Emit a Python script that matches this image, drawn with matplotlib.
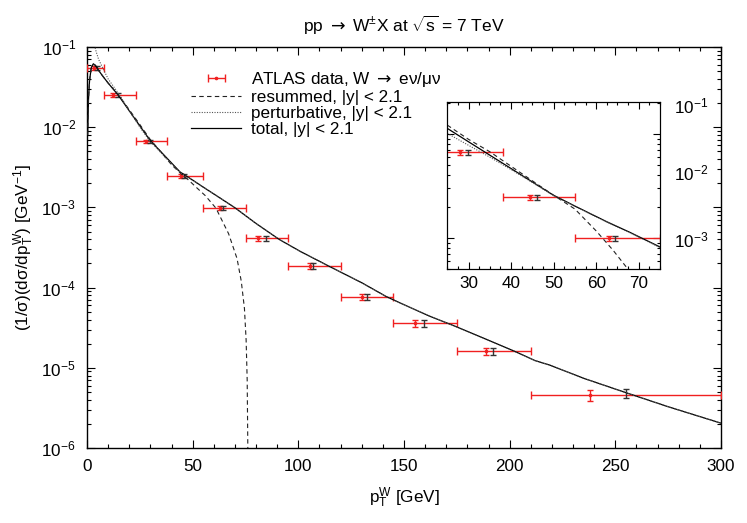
import numpy as np
import matplotlib
matplotlib.use("Agg")
import matplotlib.pyplot as plt
from matplotlib.ticker import LogLocator, NullFormatter, NullLocator, MultipleLocator, FixedLocator

plt.rcParams['font.family'] = ['Liberation Sans', 'DejaVu Sans']
plt.rcParams['mathtext.fontset'] = 'custom'
plt.rcParams['mathtext.rm'] = 'Liberation Sans'
plt.rcParams['mathtext.it'] = 'Liberation Sans:italic'
plt.rcParams['mathtext.sf'] = 'DejaVu Sans'
plt.rcParams['axes.unicode_minus'] = False
plt.rcParams['font.size'] = 12.3

# ATLAS bins and points (red) + second set (black)
bin_lo = np.array([0, 8, 23, 38, 55, 75, 95, 120, 145, 175, 210])
bin_hi = np.array([8, 23, 38, 55, 75, 95, 120, 145, 175, 210, 300])
red_x = np.array([3.5, 12.4, 27.9, 44.5, 63.0, 81.1, 105.5, 130.3, 155.2, 188.8, 238.0])
red_y = np.array([0.0546, 0.0251, 0.00668, 0.00246, 0.00099, 4.14e-4, 1.85e-4, 7.6e-5, 3.6e-5, 1.6e-5, 4.6e-6])
red_rel = np.array([0.05, 0.05, 0.05, 0.05, 0.06, 0.07, 0.09, 0.09, 0.11, 0.11, 0.15])
blk_x = np.array([4.5, 14.7, 29.8, 46.1, 64.5, 84.7, 107.1, 132.3, 159.5, 192.3, 255.1])
blk_y = np.array([0.0546, 0.0251, 0.00668, 0.00246, 0.00099, 4.14e-4, 1.85e-4, 7.6e-5, 3.6e-5, 1.6e-5, 4.8e-6])
blk_rel = np.array([0.05, 0.05, 0.05, 0.05, 0.06, 0.07, 0.09, 0.09, 0.11, 0.11, 0.13])

# theory curves, main panel
tot_x = [0.3, 0.7, 1.2, 2.0, 3.0, 4.0, 5.5, 7.7, 10, 14.8, 20, 25, 29.8, 35, 40, 44, 50, 55, 62, 70,
         80, 91, 101, 115, 130, 141.5, 148, 162, 174, 188, 202, 212, 219, 235, 255, 275, 300]
tot_y = [0.008, 0.022, 0.038, 0.055, 0.0615, 0.059, 0.051, 0.0425, 0.0355, 0.0251, 0.0160, 0.0104,
         0.00688, 0.00493, 0.00358, 0.00277, 0.00219, 0.00179, 0.00136, 0.00099,
         6.3e-4, 3.98e-4, 2.82e-4, 1.82e-4, 1.15e-4, 7.76e-5, 6.46e-5, 4.42e-5, 3.31e-5, 2.32e-5,
         1.62e-5, 1.23e-5, 1.08e-5, 7.4e-6, 4.9e-6, 3.27e-6, 2.04e-6]
res_x = [0.3, 0.7, 1.2, 2.0, 3.0, 4.0, 5.5, 7.7, 10, 14.8, 20, 25, 29.8, 35, 40, 44, 48, 52, 56,
         61, 67, 71, 73, 74.5, 75.3, 75.8, 76.1]
res_y = [0.008, 0.022, 0.038, 0.055, 0.0615, 0.059, 0.051, 0.0425, 0.0355, 0.0255, 0.0165, 0.0108,
         0.0071, 0.0049, 0.0034, 0.0027, 0.0022, 0.00175, 0.0014,
         9.8e-4, 4.7e-4, 2.3e-4, 1.2e-4, 5.5e-5, 2.2e-5, 7e-6, 1e-6]
pert_x = [3.6, 4.3, 5.5, 7.7, 10, 14.8, 20, 25, 29.8, 35, 40, 44, 50, 55, 62, 70,
          80, 91, 101, 115, 130, 141.5, 148, 162, 174, 188, 202, 212, 219, 235, 255, 275, 300]
pert_y = [0.105, 0.088, 0.070, 0.053, 0.040, 0.0265, 0.016, 0.0100, 0.0067, 0.0048, 0.0035,
          0.00275, 0.00218, 0.00179, 0.00136, 0.00099,
          6.3e-4, 3.98e-4, 2.82e-4, 1.82e-4, 1.15e-4, 7.76e-5, 6.46e-5, 4.42e-5, 3.31e-5, 2.32e-5,
          1.62e-5, 1.23e-5, 1.08e-5, 7.4e-6, 4.9e-6, 3.27e-6, 2.04e-6]

# theory curves, inset
in_tot_x = [25, 30, 35, 40, 45, 49.9, 55, 62.4, 68, 75]
in_tot_y = [0.01135, 0.00843, 0.00627, 0.00466, 0.00346, 0.00259, 0.00203, 0.00144, 0.00113, 8.2e-4]
in_res_x = [25, 30, 35, 40, 45, 49.9, 55, 60, 64, 67.5, 68.5]
in_res_y = [0.0122, 0.0089, 0.00676, 0.0049, 0.00355, 0.00259, 0.0019, 0.00117, 7.6e-4, 5.0e-4, 4.3e-4]
in_pert_x = [25, 30, 35, 40, 45, 49.9, 55, 62.4, 68, 75]
in_pert_y = [0.01016, 0.0078, 0.0060, 0.00455, 0.00342, 0.00257, 0.00202, 0.00143, 0.00112, 8.1e-4]

fig = plt.figure(figsize=(7.47, 5.23), dpi=100)
ax = fig.add_axes([87 / 747, 1 - 448 / 523, 634 / 747, 401 / 523])
ins = fig.add_axes([447.3 / 747, 1 - 269.3 / 523, 212.7 / 747, 167.6 / 523])

red_c = '#f02020'
blk_c = '#333333'


def draw(a, tx, ty, rx, ry, px, py, lw=0.9):
    a.plot(tx, ty, color='black', lw=lw, label='total, |y| < 2.1', zorder=4)
    a.plot(rx, ry, color='#222222', lw=0.8, ls=(0, (4, 3)), label='resummed, |y| < 2.1', zorder=4)
    a.plot(px, py, color='#555555', lw=0.8, ls=(0, (1, 1.3)), label='perturbative, |y| < 2.1', zorder=4)
    a.errorbar(red_x, red_y, xerr=[red_x - bin_lo, bin_hi - red_x], fmt='o', ms=1.6, color=red_c,
               ecolor=red_c, elinewidth=1, capsize=2.8, capthick=1,
               label=r'ATLAS data, W $\mathsf{\rightarrow}$ eν/μν', zorder=3)
    a.errorbar(red_x, red_y, yerr=red_rel * red_y, fmt='none', ecolor=red_c, elinewidth=1,
               capsize=2.5, capthick=1, zorder=3)
    a.errorbar(blk_x, blk_y, yerr=blk_rel * blk_y, fmt='none', ecolor=blk_c, elinewidth=1,
               capsize=2.5, capthick=1, zorder=3)


draw(ax, tot_x, tot_y, res_x, res_y, pert_x, pert_y)
draw(ins, in_tot_x, in_tot_y, in_res_x, in_res_y, in_pert_x, in_pert_y)

# main axes
ax.set_yscale('log')
ax.set_xlim(0, 300)
ax.set_ylim(1e-6, 1e-1)
ax.xaxis.set_major_locator(MultipleLocator(50))
ax.xaxis.set_minor_locator(MultipleLocator(10))
ax.yaxis.set_major_locator(LogLocator(base=10, numticks=10))
ax.yaxis.set_minor_locator(LogLocator(base=10, subs=range(2, 10), numticks=20))
ax.yaxis.set_minor_formatter(NullFormatter())
ax.tick_params(which='both', direction='in', top=True, right=True, width=0.8)
ax.tick_params(which='major', length=6, pad=8)
ax.tick_params(which='minor', length=3)
for s in ax.spines.values():
    s.set_linewidth(1)

ax.set_title(r'pp $\mathsf{\rightarrow}$ W$^{\pm}$X at $\sqrt{\mathrm{s}}$ = 7 TeV', fontsize=12.5, pad=11)
ax.set_xlabel(r'p$_\mathrm{T}^\mathrm{W}$ [GeV]', labelpad=8)
ax.set_ylabel(r'(1/σ)(dσ/dp$_\mathrm{T}^\mathrm{W}$) [GeV$^{-1}$]', labelpad=4)

h, l = ax.get_legend_handles_labels()
order = [3, 1, 2, 0]
ax.legend([h[i] for i in order], [l[i] for i in order], loc='upper left',
          bbox_to_anchor=(191 / 747, 1 - 70 / 523), bbox_transform=fig.transFigure,
          frameon=False, borderpad=0, borderaxespad=0, handlelength=2.95,
          handletextpad=0.55, labelspacing=0.05)

# inset
ins.set_yscale('log')
ins.set_xlim(25, 75)
ins.set_ylim(5.0e-4, 2.05e-2)
ins.xaxis.set_major_locator(MultipleLocator(10))
ins.xaxis.set_minor_locator(MultipleLocator(2.5))
ins.yaxis.set_major_locator(LogLocator(base=10, numticks=10))
ins.yaxis.set_minor_locator(LogLocator(base=10, subs=range(2, 10), numticks=20))
ins.yaxis.set_minor_formatter(NullFormatter())
tw = ins.twinx()
tw.set_yscale('log')
tw.set_ylim(3.53e-4, 0.112)
tw.yaxis.set_major_locator(FixedLocator([1e-3, 1e-2, 1e-1]))
tw.yaxis.set_minor_locator(NullLocator())
tw.tick_params(axis='y', length=0, pad=10)
ins.tick_params(which='both', direction='in', top=True, right=True, labelleft=False, width=0.8)
ins.tick_params(which='major', length=5, pad=5)
ins.tick_params(which='minor', length=2.5)
ins.set_facecolor('white')

fig.savefig('out.png', dpi=100)
